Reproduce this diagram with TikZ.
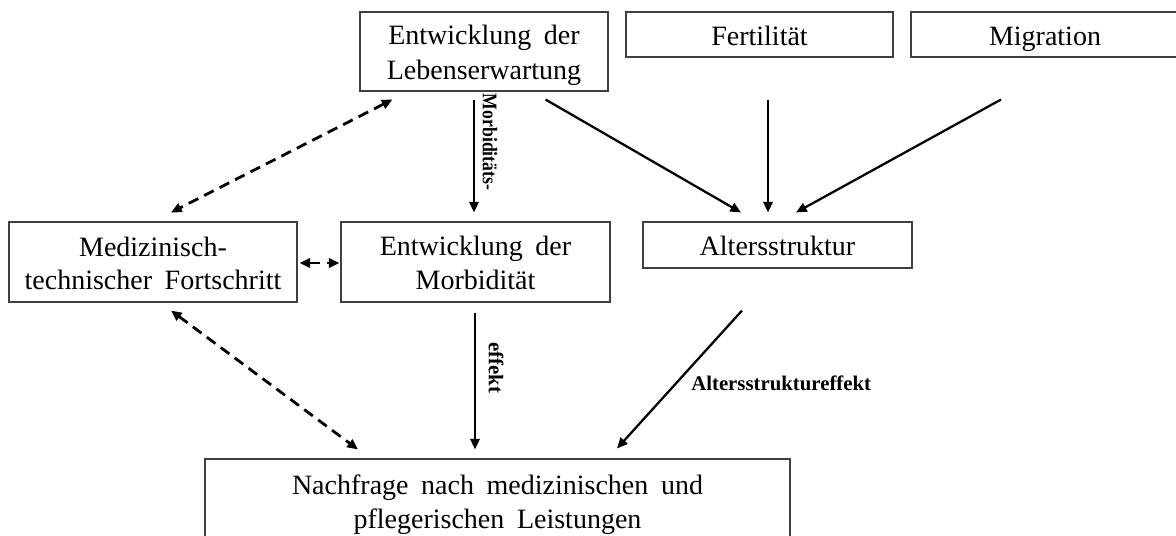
\documentclass[tikz,border=0pt]{standalone}
\usepackage{fontspec}
\setmainfont{Liberation Serif}
\usetikzlibrary{arrows.meta,calc}
\newcommand{\wide}{\spaceskip=0.45em plus 0.1em}
% line strut, tall above the baseline so that the text sits centred in its box
\newcommand{\ls}{\rule[-4.4pt]{0pt}{24.7pt}}
\begin{document}
\begin{tikzpicture}[x=0.75pt,y=-0.75pt,
  box/.style={draw=black!75,line width=0.8pt,inner sep=0pt,align=center,
    font=\fontsize{21}{24.75}\selectfont\wide},
  arr/.style={line width=1.7pt,-{Triangle[length=8pt,width=7pt]}},
  darr/.style={line width=2.1pt,dash pattern=on 8pt off 5pt,
    {Triangle[length=8pt,width=7pt]}-{Triangle[length=8pt,width=7pt]}},
  lbl/.style={font=\bfseries\fontsize{15.6}{18}\selectfont,inner sep=0pt}]
\useasboundingbox (0,0) rectangle (1176,535);
\clip (0,0) rectangle (1176,535);

% boxes
\node[box,minimum width=186pt,minimum height=59.25pt] (leb) at (484,51.5) {Entwicklung der\ls\\Lebenserwartung\ls};
\node[box,minimum width=200.25pt,minimum height=33.75pt] (fert) at (759.5,34.5) {Fertilität\ls};
\node[box,minimum width=201pt,minimum height=33.75pt] (migr) at (1045,34.5) {Migration\ls};
\node[box,minimum width=216pt,minimum height=60pt] (med) at (153,262) {Medizinisch-\ls\\technischer Fortschritt\ls};
\node[box,minimum width=201.75pt,minimum height=60pt] (morb) at (475.5,262) {Entwicklung der\ls\\Morbidität\ls};
\node[box,minimum width=201.75pt,minimum height=34.5pt] (alt) at (777.5,245) {Altersstruktur\ls};
\node[box,minimum width=438.75pt,minimum height=63pt] (nach) at (497.5,501) {Nachfrage nach medizinischen und\ls\\pflegerischen Leistungen\ls};

% solid influences
\draw[arr] ($(leb.south)+(-10,8)$) -- ($(morb.north)+(-1.5,-9)$);
\draw[arr] ($(leb.south east)+(-63,8)$) -- ($(alt.north)+(-36.5,-9)$);
\draw[arr] ($(fert.south)+(8.5,42)$) -- ($(alt.north)+(-9.5,-9)$);
\draw[arr] ($(migr.south)+(-44,42)$) -- ($(alt.north)+(18.5,-9)$);
\draw[arr] ($(morb.south)+(-0.5,10)$) -- ($(nach.north)+(-22.5,-9)$);
\draw[arr] ($(alt.south)+(-35.5,42)$) -- ($(nach.north)+(119.5,-10)$);

% dashed interactions
\draw[darr] ($(leb.south west)+(33,8)$) -- ($(med.north)+(18,-9)$);
\draw[darr] ($(med.east)+(2,1)$) -- ($(morb.west)+(-1,1)$);
\draw[darr] ($(med.south)+(18,8)$) -- ($(nach.north)+(-139.5,-9)$);

% effect labels
\node[lbl,rotate=-90] (lmorb) at (490,142) {\scalebox{0.85}[1]{Morbiditäts-}};
\node[lbl,rotate=-90] (leff) at (496,368) {effekt};
\node[lbl,anchor=west] (lalt) at (691,383) {Altersstruktureffekt};
\end{tikzpicture}
\end{document}
